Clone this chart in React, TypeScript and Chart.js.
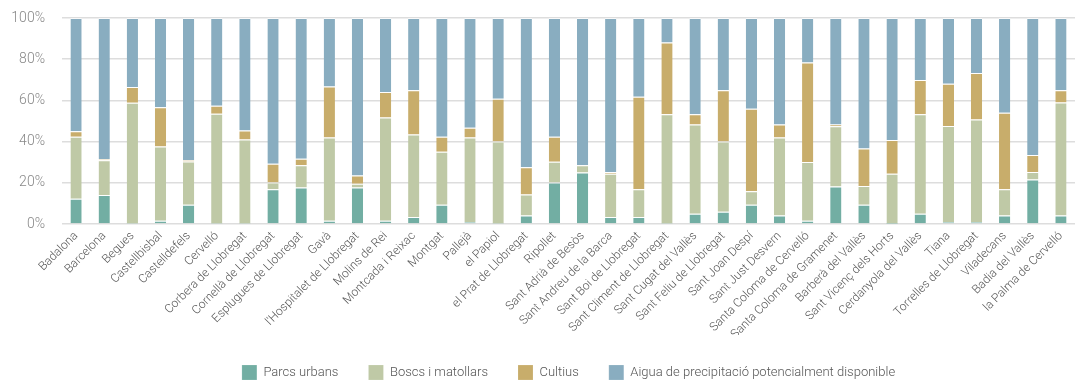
import React, { useEffect, useRef } from "react";
import { Chart, registerables } from "chart.js";

Chart.register(...registerables);

const categories = [
  "Badalona", "Barcelona", "Begues", "Castellbisbal", "Castelldefels", "Cervelló",
  "Corbera de Llobregat", "Cornellà de Llobregat", "Esplugues de Llobregat", "Gavà",
  "l'Hospitalet de Llobregat", "Molins de Rei", "Montcada i Reixac", "Montgat", "Pallejà",
  "el Papiol", "el Prat de Llobregat", "Ripollet", "Sant Adrià de Besòs",
  "Sant Andreu de la Barca", "Sant Boi de Llobregat", "Sant Climent de Llobregat",
  "Sant Cugat del Vallès", "Sant Feliu de Llobregat", "Sant Joan Despí", "Sant Just Desvern",
  "Santa Coloma de Cervelló", "Santa Coloma de Gramenet", "Barberà del Vallès",
  "Sant Vicenç dels Horts", "Cerdanyola del Vallès", "Tiana", "Torrelles de Llobregat",
  "Viladecans", "Badia del Vallès", "la Palma de Cervelló",
];

const parcsUrbans = [
  12.2, 14.1, 0.3, 1.6, 9.3, 0.3, 0.3, 16.9, 17.7, 1.6, 17.7, 1.6, 3.4, 9.3, 1.0, 0.3, 4.1, 20.2,
  25.0, 3.4, 3.4, 0.3, 5.0, 6.0, 9.3, 4.1, 1.6, 18.2, 9.3, 0.2, 5.0, 1.0, 1.0, 4.1, 21.6, 4.1,
];
const boscsMatollars = [
  30.2, 16.8, 58.6, 36.0, 21.1, 53.2, 40.7, 3.3, 10.8, 40.4, 1.8, 50.1, 40.0, 25.8, 41.0, 39.7, 10.2, 10.0,
  3.5, 21.0, 13.5, 53.0, 43.3, 34.0, 6.6, 37.9, 28.5, 29.3, 9.2, 24.2, 48.3, 46.6, 49.7, 12.8, 3.6, 54.9,
];
const cultius = [
  2.6, 0.6, 7.6, 19.1, 0.7, 3.9, 4.4, 9.1, 3.2, 24.7, 4.1, 12.4, 21.5, 7.3, 4.7, 20.8, 13.3, 12.2,
  0.2, 0.8, 44.9, 34.8, 5.0, 24.9, 40.0, 6.3, 48.3, 0.8, 18.2, 16.4, 16.6, 20.5, 22.6, 37.1, 8.3, 5.9,
];
const aiguaPrecipitacio = [
  55.0, 68.5, 33.5, 43.3, 68.9, 42.6, 54.6, 70.7, 68.3, 33.3, 76.4, 35.9, 35.1, 57.6, 53.3, 39.2, 72.4, 57.6,
  71.3, 74.8, 38.2, 11.9, 46.7, 35.1, 44.1, 51.7, 21.6, 51.7, 63.3, 59.2, 30.1, 31.9, 26.7, 46.0, 66.5, 35.1,
];

const seriesNames = [
  "Parcs urbans",
  "Boscs i matollars",
  "Cultius",
  "Aigua de precipitació potencialment disponible",
];
const seriesColors = ["#72aea3", "#bfc9a6", "#c8ad6b", "#89adc0"];
const yTicks = [0, 20, 40, 60, 80, 100];

export default function App() {
  const ref = useRef<HTMLCanvasElement>(null);

  useEffect(() => {
    document.body.style.margin = "0";
    document.body.style.overflow = "hidden";
    const canvas = ref.current;
    if (!canvas) return;
    const seriesData = [parcsUrbans, boscsMatollars, cultius, aiguaPrecipitacio];
    const chart = new Chart(canvas, {
      type: "bar",
      data: {
        labels: categories,
        datasets: seriesNames.map((name, i) => ({
          label: name,
          data: seriesData[i],
          backgroundColor: seriesColors[i],
          borderColor: "rgba(255,255,255,0.6)",
          borderWidth: { top: 1, bottom: 0, left: 0, right: 0 },
          barPercentage: 0.4,
          categoryPercentage: 1,
        })),
      },
      options: {
        responsive: false,
        animation: false,
        maintainAspectRatio: false,
        layout: { padding: { left: 0, right: 4, top: 18, bottom: 0 } },
        plugins: {
          tooltip: { enabled: false },
          legend: {
            position: "bottom",
            fullSize: false,
            labels: {
              boxWidth: 15,
              boxHeight: 15,
              padding: 30,
              color: "#555",
              font: { family: "Roboto", size: 13, weight: "300" },
            },
          },
        },
        scales: {
          x: {
            stacked: true,
            grid: { display: false, drawTicks: false },
            border: { display: false },
            afterFit: (scale: any) => {
              scale.height = 111;
            },
            ticks: {
              minRotation: 45,
              maxRotation: 45,
              autoSkip: false,
              color: "#555",
              padding: 5,
              font: { family: "Roboto", size: 12, weight: "300" },
            },
          },
          y: {
            stacked: true,
            min: 0,
            max: 100,
            afterBuildTicks: (axis: any) => {
              axis.ticks = yTicks.map((v) => ({ value: v }));
            },
            afterFit: (scale: any) => {
              scale.width = 62;
              scale.paddingTop = 0;
              scale.paddingBottom = 0;
            },
            grid: { color: "#dddddd", lineWidth: 1.5, drawTicks: false },
            border: { display: false },
            ticks: {
              color: "#888",
              padding: 17,
              font: { family: "Roboto", size: 14, weight: "300" },
              callback: (v: any) => v + "%",
            },
          },
        },
      },
    });
    return () => chart.destroy();
  }, []);

  return <canvas ref={ref} width={1079} height={390} style={{ display: "block" }} />;
}
